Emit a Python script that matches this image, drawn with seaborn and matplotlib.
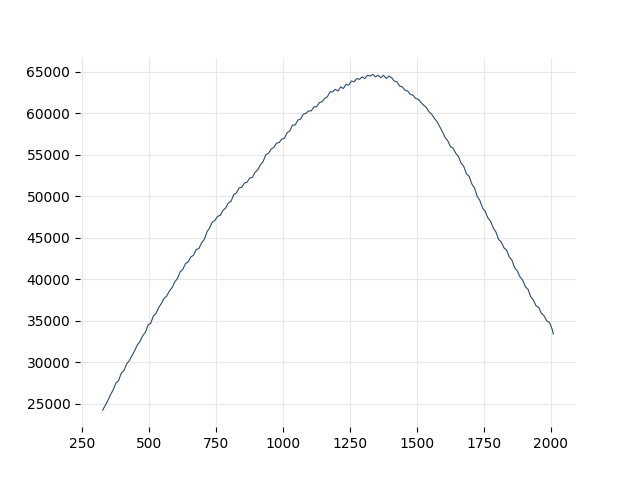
import numpy as np
import pandas as pd
import matplotlib
matplotlib.use("Agg")
import matplotlib.pyplot as plt
import seaborn as sns

# ---------------------------
# Data
# ---------------------------
x_start = 325
x_step = 10
x_end = 2010

values = [
    24200, 24800, 25400, 26100, 26700, 27500, 27800, 28700, 29000, 29800,
    30200, 30800, 31400, 32100, 32500, 33200, 33600, 34500, 34700, 35600,
    35900, 36600, 37100, 37700, 38000, 38600, 39000, 39700, 40100, 40900,
    41200, 41900, 42100, 42700, 42900, 43600, 43700, 44400, 44800, 45700,
    46200, 46900, 47100, 47600, 47700, 48300, 48600, 49200, 49400, 50200,
    50400, 51000, 51100, 51600, 51700, 52200, 52300, 52900, 53200, 53800,
    54200, 55000, 55200, 55700, 55900, 56400, 56500, 56900, 57000, 57700,
    57900, 58600, 58600, 59200, 59300, 59900, 60000, 60300, 60300, 60800,
    60800, 61300, 61400, 61800, 62000, 62600, 62600, 62900, 62700, 63200,
    63000, 63500, 63400, 63900, 63800, 64200, 64100, 64400, 64200, 64600,
    64500, 64700, 64400, 64600, 64300, 64600, 64200, 64500, 64300,
    63900, 63800, 63300, 63200, 62800, 62700, 62300, 62200, 61800, 61700,
    61300, 61000, 60700, 60200, 59900, 59400, 59000, 58400, 57800, 57100,
    56700, 56000, 55800, 55200, 54800, 54000, 53600, 52700, 52400, 51500,
    51000, 50000, 49500, 48600, 48200, 47400, 47000, 46200, 45700, 44800,
    44500, 43800, 43500, 42700, 42300, 41400, 41000, 40300, 39900, 39100,
    38800, 37900, 37500, 36800, 36600, 35900, 35600, 35000, 34800, 34000,
    33400,
]

x = x_start + x_step * np.arange(len(values))
x[-1] = x_end

df = pd.DataFrame({"x": x, "y": values})

# ---------------------------
# Plot
# ---------------------------
sns.set_style("whitegrid", {
    "grid.color": ".91",
    "xtick.bottom": True,
    "ytick.left": True,
    "text.color": "black",
    "xtick.color": "black",
    "ytick.color": "black",
})

fig, ax = plt.subplots(figsize=(6.4, 4.8), dpi=100)
sns.lineplot(data=df, x="x", y="y", color="#2e4a6d", linewidth=0.8, ax=ax)

ax.set_xlabel("")
ax.set_ylabel("")
ax.set_xticks([250, 500, 750, 1000, 1250, 1500, 1750, 2000])
sns.despine(left=True, bottom=True)

fig.savefig("out.png", dpi=100)
